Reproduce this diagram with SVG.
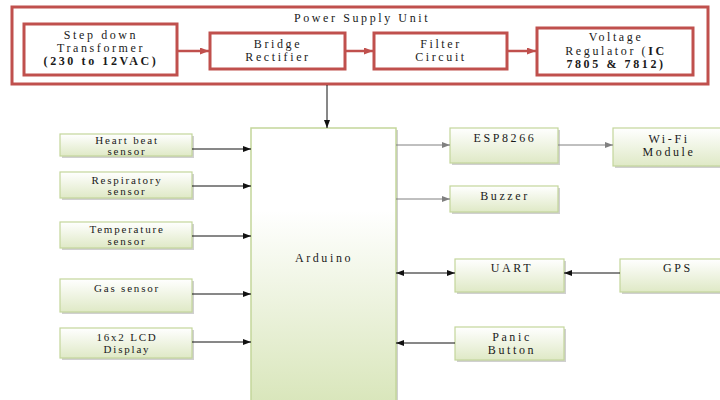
<svg xmlns="http://www.w3.org/2000/svg" width="720" height="400" viewBox="0 0 720 400">
<defs>
<linearGradient id="g" x1="0" y1="0" x2="0" y2="1">
<stop offset="0" stop-color="#ffffff"/>
<stop offset="1" stop-color="#dfe9c6"/>
</linearGradient>
<linearGradient id="ga" x1="0" y1="0" x2="0" y2="1">
<stop offset="0" stop-color="#ffffff"/>
<stop offset="0.3" stop-color="#ffffff"/>
<stop offset="1" stop-color="#d9e6bb"/>
</linearGradient>
<marker id="ab" markerWidth="8" markerHeight="6" refX="8" refY="3" orient="auto" markerUnits="userSpaceOnUse">
<path d="M0,0 L8,3 L0,6 z" fill="#111"/>
</marker>
<marker id="abs" markerWidth="8" markerHeight="6" refX="0" refY="3" orient="auto" markerUnits="userSpaceOnUse">
<path d="M8,0 L0,3 L8,6 z" fill="#111"/>
</marker>
<marker id="ag" markerWidth="8" markerHeight="6" refX="8" refY="3" orient="auto" markerUnits="userSpaceOnUse">
<path d="M0,0 L8,3 L0,6 z" fill="#808080"/>
</marker>
<marker id="ar" markerWidth="9" markerHeight="7" refX="9" refY="3.5" orient="auto" markerUnits="userSpaceOnUse">
<path d="M0,0 L9,3.5 L0,7 z" fill="#c0504d"/>
</marker>
</defs>
<style>
text{font-family:"Liberation Serif","DejaVu Serif","Times New Roman",serif;font-size:12px;letter-spacing:2.6px;fill:#1a1a1a;text-anchor:middle}
.s{font-size:11px;letter-spacing:1.8px}
.b{font-weight:bold}
.p{fill:#fff;stroke:#c0504d;stroke-width:3}
.n{fill:url(#g);stroke:#c3d69b;stroke-width:1.2}
.sh{fill:#d0d0d0}
.k{stroke:#111;stroke-width:1;fill:none}
.gy{stroke:#808080;stroke-width:1;fill:none}
.r{stroke:#c0504d;stroke-width:2.5;fill:none}
</style>
<rect width="720" height="400" fill="#fff"/>
<g id="psu">
<rect class="p" x="12" y="7" width="696" height="77"/>
<text x="362" y="22">Power Supply Unit</text>
</g>
<g id="transformer">
<rect class="p" x="24" y="24" width="153" height="51"/>
<text x="101" y="39">Step down</text>
<text x="101" y="52">Transformer</text>
<text x="101" y="65" class="b">(230 to 12VAC)</text>
</g>
<g id="rectifier">
<rect class="p" x="210" y="33" width="135" height="36"/>
<text x="278" y="48">Bridge</text>
<text x="278" y="61">Rectifier</text>
</g>
<g id="filter">
<rect class="p" x="374" y="33" width="133" height="36"/>
<text x="441" y="48">Filter</text>
<text x="441" y="61">Circuit</text>
</g>
<g id="regulator">
<rect class="p" x="537" y="28" width="156" height="47"/>
<text x="616" y="41">Voltage</text>
<text x="616" y="55">Regulator (<tspan class="b">IC</tspan></text>
<text x="616" y="68" class="b">7805 &amp; 7812)</text>
</g>
<g id="arduino">
<rect class="sh" x="253" y="130" width="145" height="272"/>
<rect x="251" y="128" width="145" height="274" fill="url(#ga)" stroke="#c3d69b" stroke-width="1.5"/>
<text x="324" y="262">Arduino</text>
</g>
<g id="heartbeat">
<rect class="sh" x="62" y="136" width="132" height="22"/>
<rect class="n" x="60" y="134" width="132" height="22"/>
<text x="127" y="144" class="s">Heart beat</text>
<text x="127" y="155" class="s">sensor</text>
</g>
<g id="respiratory">
<rect class="sh" x="62" y="174" width="132" height="26"/>
<rect class="n" x="60" y="172" width="132" height="26"/>
<text x="127" y="184" class="s">Respiratory</text>
<text x="127" y="195" class="s">sensor</text>
</g>
<g id="temperature">
<rect class="sh" x="62" y="224" width="132" height="26"/>
<rect class="n" x="60" y="222" width="132" height="26"/>
<text x="127" y="233" class="s">Temperature</text>
<text x="127" y="245" class="s">sensor</text>
</g>
<g id="gas">
<rect class="sh" x="62" y="281" width="132" height="33"/>
<rect class="n" x="60" y="279" width="132" height="33"/>
<text x="127" y="292" class="s">Gas sensor</text>
</g>
<g id="lcd">
<rect class="sh" x="62" y="330" width="132" height="30"/>
<rect class="n" x="60" y="328" width="132" height="30"/>
<text x="127" y="341" class="s">16x2 LCD</text>
<text x="127" y="353" class="s">Display</text>
</g>
<g id="esp">
<rect class="sh" x="452" y="130" width="108" height="35"/>
<rect class="n" x="450" y="128" width="108" height="35"/>
<text x="505" y="142">ESP8266</text>
</g>
<g id="wifi">
<rect class="sh" x="615" y="130" width="110" height="38"/>
<rect class="n" x="613" y="128" width="110" height="38"/>
<text x="669" y="143">Wi-Fi</text>
<text x="669" y="156">Module</text>
</g>
<g id="buzzer">
<rect class="sh" x="452" y="188" width="108" height="26"/>
<rect class="n" x="450" y="186" width="108" height="26"/>
<text x="505" y="200">Buzzer</text>
</g>
<g id="uart">
<rect class="sh" x="457" y="261" width="109" height="33"/>
<rect class="n" x="455" y="259" width="109" height="33"/>
<text x="512" y="272">UART</text>
</g>
<g id="gps">
<rect class="sh" x="622" y="261" width="110" height="33"/>
<rect class="n" x="620" y="259" width="110" height="33"/>
<text x="678" y="272">GPS</text>
</g>
<g id="panic">
<rect class="sh" x="457" y="329" width="109" height="33"/>
<rect class="n" x="455" y="327" width="109" height="33"/>
<text x="512" y="341">Panic</text>
<text x="512" y="354">Button</text>
</g>
<g id="connectors">
<line class="r" x1="177" y1="51" x2="209" y2="51" marker-end="url(#ar)"/>
<line class="r" x1="345" y1="51" x2="373" y2="51" marker-end="url(#ar)"/>
<line class="r" x1="507" y1="51" x2="536" y2="51" marker-end="url(#ar)"/>
<line class="k" x1="327" y1="85" x2="327" y2="128" marker-end="url(#ab)"/>
<line class="k" x1="192" y1="149" x2="251" y2="149" marker-end="url(#ab)"/>
<line class="k" x1="192" y1="186" x2="251" y2="186" marker-end="url(#ab)"/>
<line class="k" x1="192" y1="236" x2="251" y2="236" marker-end="url(#ab)"/>
<line class="k" x1="192" y1="294" x2="251" y2="294" marker-end="url(#ab)"/>
<line class="k" x1="192" y1="342" x2="251" y2="342" marker-end="url(#ab)"/>
<line class="gy" x1="396" y1="145" x2="450" y2="145" marker-end="url(#ag)"/>
<line class="gy" x1="558" y1="145" x2="613" y2="145" marker-end="url(#ag)"/>
<line class="gy" x1="396" y1="199" x2="450" y2="199" marker-end="url(#ag)"/>
<line class="k" x1="396" y1="273" x2="455" y2="273" marker-start="url(#abs)" marker-end="url(#ab)"/>
<line class="k" x1="620" y1="273" x2="564" y2="273" marker-end="url(#ab)"/>
<line class="k" x1="455" y1="343" x2="396" y2="343" marker-end="url(#ab)"/>
</g>
</svg>
